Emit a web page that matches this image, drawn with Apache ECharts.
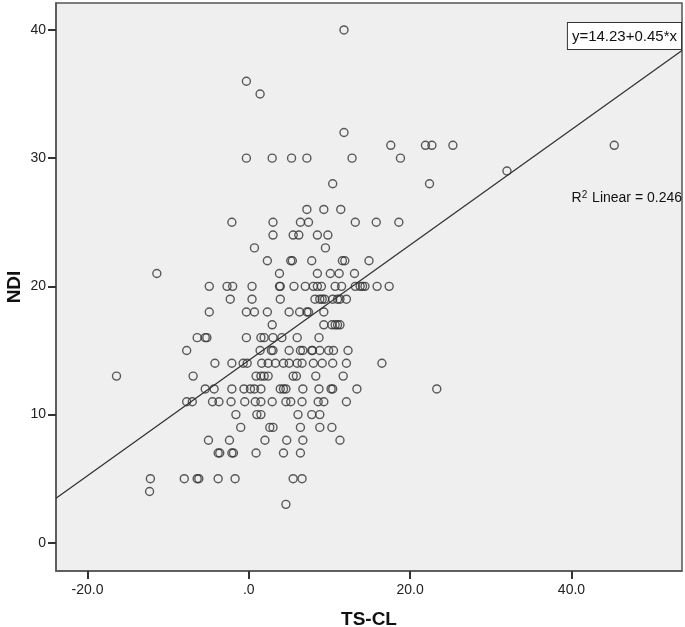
<!DOCTYPE html>
<html>
<head>
<meta charset="utf-8">
<script src="https://cdn.jsdelivr.net/npm/echarts@6/dist/echarts.min.js"></script>
<style>
  html, body { margin: 0; padding: 0; background: #fff; }
  #chart { width: 685px; height: 627px; }
</style>
</head>
<body>
<div id="chart"></div>
<script>
// NDI values (rows) and the TS-CL values of the points in each row
const ndiLevels = [40, 36, 35, 32, 31, 30, 29, 28, 26, 25, 24, 23, 22, 21, 20, 19, 18, 17, 16, 15, 14, 13, 12, 11, 10, 9, 8, 7, 5, 4, 3];
const tsclByLevel = [
  [11.8],
  [-0.3],
  [1.4],
  [11.8],
  [17.6, 21.9, 22.7, 25.3, 45.3],
  [-0.3, 2.9, 5.3, 7.2, 12.8, 18.8],
  [32.0],
  [10.4, 22.4],
  [7.2, 9.3, 11.4],
  [-2.1, 3.0, 6.4, 7.4, 13.2, 15.8, 18.6],
  [3.0, 5.5, 6.2, 8.5, 9.8],
  [0.7, 9.5],
  [2.3, 5.2, 5.4, 7.8, 11.6, 11.9, 14.9],
  [-11.4, 3.8, 8.5, 10.1, 11.2, 13.1],
  [-4.9, -2.7, -2.0, 0.4, 3.8, 3.9, 5.6, 7.0, 8.0, 8.5, 9.0, 10.7, 11.5, 13.2, 13.8, 14.1, 14.4, 15.9, 17.4],
  [-2.3, 0.4, 3.9, 8.2, 8.8, 9.1, 9.4, 10.4, 11.0, 11.3, 12.1],
  [-4.9, -0.3, 0.7, 2.3, 5.0, 6.3, 7.2, 7.4, 9.3],
  [2.9, 9.3, 10.3, 10.7, 11.0, 11.3],
  [-6.4, -5.4, -5.2, -0.3, 1.5, 1.9, 3.0, 4.1, 6.0, 8.7],
  [-7.7, 1.4, 2.8, 3.0, 5.0, 6.4, 6.7, 7.8, 7.9, 8.8, 9.9, 10.5, 12.3],
  [-4.2, -2.1, -0.7, -0.2, 1.6, 2.4, 3.3, 4.3, 5.0, 6.0, 6.6, 8.0, 9.1, 10.4, 12.1, 16.5],
  [-16.4, -6.9, 0.9, 1.5, 1.9, 2.4, 5.5, 5.9, 8.3, 11.7],
  [-5.4, -4.3, -2.1, -0.6, 0.2, 0.7, 1.5, 3.9, 4.3, 4.6, 6.7, 8.7, 10.2, 10.4, 13.4, 23.3],
  [-7.7, -7.0, -4.5, -3.7, -2.2, -0.5, 0.8, 1.5, 2.9, 4.6, 5.2, 6.6, 8.6, 9.3, 12.1],
  [-1.6, 1.0, 1.5, 6.1, 7.8, 8.8],
  [-1.0, 2.6, 3.0, 6.4, 8.8, 10.3],
  [-5.0, -2.4, 2.0, 4.7, 6.7, 11.3],
  [-3.8, -3.6, -2.1, -1.9, 0.9, 4.3, 6.4],
  [-12.2, -8.0, -6.4, -6.2, -3.8, -1.7, 5.5, 6.6],
  [-12.3],
  [4.6]
];

// fit line y = a + b*x
const fitA = 14.23;
const fitB = 0.45;
const xTicks = [-20, 0, 20, 40];
const yTicks = [0, 10, 20, 30, 40];
const xMin = -23.9, xMax = 53.7;
const yMin = -2.2, yMax = 42.1;

const points = [];
ndiLevels.forEach((y, i) => {
  tsclByLevel[i].forEach(x => points.push([x, y]));
});

const fitLine = [[xMin, fitA + fitB * xMin], [xMax, fitA + fitB * xMax]];

const font = '"Liberation Sans", Arial, sans-serif';

const chart = echarts.init(document.getElementById('chart'));
chart.setOption({
  backgroundColor: '#ffffff',
  animation: false,
  grid: {
    left: 56, top: 3, right: 3, bottom: 56,
    outerBoundsMode: 'none',
    containLabel: false,
    show: true,
    backgroundColor: '#efefef',
    borderColor: '#555',
    borderWidth: 1.5
  },
  xAxis: {
    type: 'value',
    min: xMin, max: xMax,
    name: 'TS-CL',
    nameLocation: 'middle',
    nameGap: 39,
    nameMoveOverlap: false,
    nameTextStyle: { fontFamily: font, fontWeight: 'bold', fontSize: 19, color: '#111' },
    axisLine: { show: true, onZero: false, lineStyle: { color: '#555', width: 1.5 } },
    axisTick: { show: true, inside: false, length: 8, customValues: xTicks, lineStyle: { color: '#333', width: 2 } },
    axisLabel: {
      customValues: xTicks,
      margin: 12,
      fontFamily: font, fontSize: 14, color: '#222',
      formatter: v => v === 0 ? '.0' : v.toFixed(1)
    },
    splitLine: { show: false }
  },
  yAxis: {
    type: 'value',
    min: yMin, max: yMax,
    name: 'NDI',
    nameLocation: 'middle',
    nameGap: 32,
    nameMoveOverlap: false,
    nameTextStyle: { fontFamily: font, fontWeight: 'bold', fontSize: 19, color: '#111' },
    axisLine: { show: true, onZero: false, lineStyle: { color: '#555', width: 1.5 } },
    axisTick: { show: true, inside: false, length: 8, customValues: yTicks, lineStyle: { color: '#333', width: 2 } },
    axisLabel: {
      customValues: yTicks,
      margin: 10,
      fontFamily: font, fontSize: 14, color: '#222'
    },
    splitLine: { show: false }
  },
  graphic: [
    {
      type: 'text',
      right: 3, top: 22,
      style: {
        text: 'y=14.23+0.45*x',
        font: '15px ' + font,
        fill: '#111',
        backgroundColor: '#fff',
        borderColor: '#333',
        borderWidth: 1,
        padding: [6, 4, 5, 4]
      },
      z: 10
    },
    {
      type: 'text',
      right: 3, top: 190,
      style: {
        text: 'R{sup|2} Linear = 0.246',
        font: '14px ' + font,
        fill: '#111',
        rich: { sup: { fontSize: 10, verticalAlign: 'top', padding: [0, 1, 6, 0], fontFamily: font, fill: '#111' } }
      },
      z: 10
    }
  ],
  series: [
    {
      type: 'scatter',
      data: points,
      symbol: 'circle',
      symbolSize: 8,
      itemStyle: { color: 'rgba(0,0,0,0)', borderColor: '#333', borderWidth: 1.4 },
      z: 3
    },
    {
      type: 'line',
      data: fitLine,
      showSymbol: false,
      lineStyle: { color: '#333', width: 1.3 },
      clip: true,
      z: 4
    }
  ]
});
</script>
</body>
</html>
